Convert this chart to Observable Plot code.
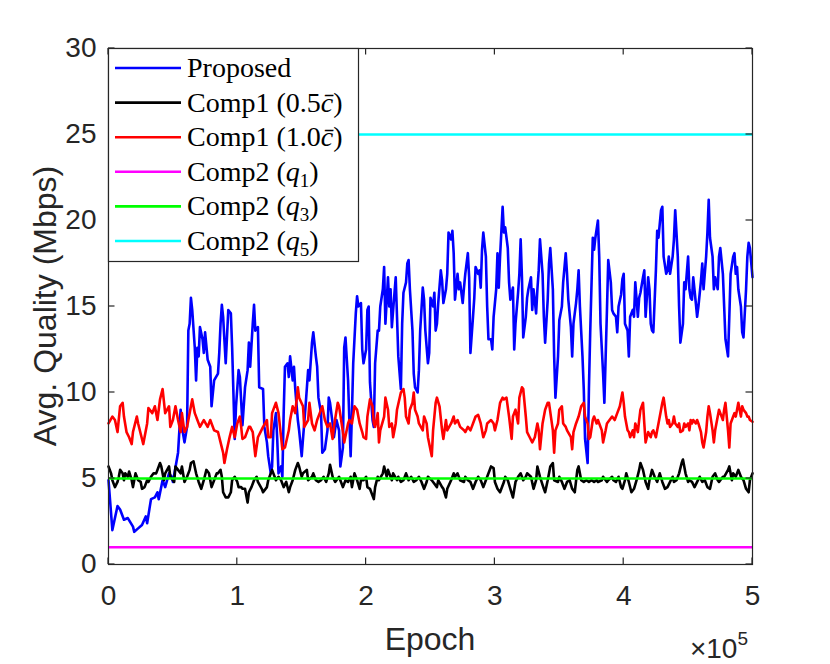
<!DOCTYPE html>
<html>
<head>
<meta charset="utf-8">
<script src="https://cdn.jsdelivr.net/npm/d3@7"></script>
<script src="https://cdn.jsdelivr.net/npm/@observablehq/plot@0.6"></script>
<style>
  html, body { margin: 0; padding: 0; background: #fff; }
</style>
</head>
<body>
<div id="chart"></div>
<script>
// Epoch is in thousands (x 10^3); quality in Mbps
const epochTicksK = [0, 100, 200, 300, 400, 500];
const xTickLabels = ["0", "1", "2", "3", "4", "5"];
const qualityTicks = [0, 5, 10, 15, 20, 25, 30];

const seriesNames = ["Proposed", "Comp1 (0.5c̄)", "Comp1 (1.0c̄)", "Comp2 (q1)", "Comp2 (q3)", "Comp2 (q5)"];
const seriesColors = ["#0000ff", "#000000", "#ff0000", "#ff00ff", "#00ff00", "#00ffff"];

// [epoch (thousands), avg quality]
const proposed = [[0,4.9],[3,2.0],[7,3.4],[9,3.2],[12,2.6],[15,2.7],[19,2.2],[20,1.9],[23,2.1],[26,2.3],[29,2.8],[30,2.4],[33,3.8],[36,3.9],[38,4.2],[39,3.8],[42,4.9],[44,4.5],[47,5.3],[49,5.1],[50,4.8],[54,6.5],[56,9.0],[57,8.0],[59,7.1],[61,8.0],[62,13.6],[63,14.0],[64,15.5],[65,14.8],[67,12.6],[68,10.7],[69,12.6],[70,12.1],[71,13.8],[73,13.1],[74,12.3],[75,13.5],[77,11.9],[79,11.5],[80,9.2],[82,10.7],[85,11.1],[86,12.3],[87,14.0],[88,15.1],[89,14.4],[91,11.7],[93,14.8],[95,14.6],[96,12.6],[98,7.3],[99,9.2],[101,11.3],[102,10.9],[104,8.1],[106,10.3],[108,11.3],[109,12.9],[110,11.5],[112,14.0],[113,15.1],[114,13.6],[116,13.8],[117,10.3],[120,10.2],[121,8.0],[123,7.1],[124,6.3],[126,5.3],[127,5.7],[128,7.8],[130,8.8],[131,7.3],[132,5.3],[134,5.7],[135,5.1],[136,8.8],[137,11.5],[139,11.7],[140,10.9],[141,12.1],[143,10.7],[144,11.5],[145,10.2],[147,8.4],[148,7.8],[150,6.3],[151,7.3],[153,9.2],[155,11.3],[156,10.7],[158,12.9],[159,13.5],[161,12.1],[162,11.5],[163,9.7],[165,8.8],[166,6.5],[168,6.7],[170,7.8],[171,9.7],[172,9.4],[174,8.2],[175,7.4],[177,8.4],[179,7.8],[180,5.7],[182,6.8],[183,12.6],[184,13.2],[186,10.7],[187,8.4],[188,6.3],[189,8.8],[190,11.7],[192,14.6],[193,15.6],[194,15.0],[196,15.2],[197,12.5],[198,11.7],[200,12.5],[201,14.8],[202,15.0],[203,10.6],[205,8.4],[206,8.0],[207,11.7],[209,13.6],[210,13.6],[211,15.0],[213,16.0],[214,17.3],[215,14.0],[217,16.7],[218,15.0],[219,16.0],[220,13.8],[221,14.8],[223,16.7],[224,14.4],[225,12.1],[227,10.2],[228,14.0],[229,15.8],[231,16.4],[232,17.5],[233,17.7],[234,16.0],[236,13.6],[237,11.1],[238,10.3],[240,10.0],[241,11.3],[242,13.6],[244,16.1],[245,15.4],[246,13.6],[248,11.7],[249,12.3],[250,15.5],[252,15.0],[253,15.8],[254,13.6],[255,14.0],[256,15.2],[258,17.1],[259,16.5],[260,15.2],[262,16.0],[263,16.9],[264,19.3],[266,18.9],[267,19.4],[268,18.1],[269,15.4],[271,16.9],[272,16.0],[273,16.4],[275,15.2],[276,16.1],[277,16.9],[279,18.1],[280,16.7],[281,12.3],[283,14.4],[284,15.5],[285,17.3],[287,16.9],[288,17.1],[289,16.1],[290,18.3],[291,19.3],[293,17.9],[294,15.0],[295,13.1],[297,13.1],[298,12.5],[299,14.4],[301,16.0],[302,18.1],[303,16.1],[304,17.9],[306,20.8],[307,19.3],[308,19.6],[310,18.4],[311,16.4],[312,15.4],[314,16.1],[315,12.5],[316,14.0],[318,15.8],[319,16.9],[320,18.9],[321,16.7],[322,13.2],[324,14.4],[325,15.5],[326,16.0],[328,16.7],[329,14.8],[330,16.0],[332,14.6],[333,16.0],[334,17.1],[335,18.9],[337,16.9],[338,14.4],[339,12.9],[341,15.4],[342,17.5],[343,18.4],[345,16.0],[346,12.1],[347,9.7],[349,12.1],[350,14.2],[351,14.6],[352,15.0],[353,16.4],[355,18.1],[356,16.9],[357,15.4],[359,13.8],[360,12.1],[361,14.0],[363,15.2],[364,16.0],[365,17.1],[366,15.0],[368,12.1],[369,10.2],[370,7.3],[372,5.9],[373,10.2],[374,13.5],[376,19.0],[377,18.3],[378,19.0],[380,20.0],[381,17.9],[382,14.0],[384,11.1],[385,9.4],[386,12.1],[387,14.8],[388,17.7],[390,16.4],[391,14.8],[392,14.6],[394,14.4],[395,13.5],[396,15.0],[398,15.7],[399,16.6],[400,16.9],[401,14.0],[403,13.6],[404,12.1],[405,14.4],[407,14.8],[408,14.4],[409,16.4],[411,14.4],[412,15.5],[413,15.8],[415,16.7],[416,17.1],[417,14.4],[419,16.7],[420,16.0],[421,14.0],[422,13.6],[423,13.5],[425,17.1],[426,19.4],[427,19.0],[429,20.6],[430,20.8],[431,17.9],[433,16.9],[434,17.1],[435,17.9],[436,16.9],[438,17.9],[439,18.9],[440,20.6],[442,17.9],[443,15.0],[444,12.9],[446,14.0],[447,16.4],[448,16.0],[450,17.9],[451,16.0],[452,15.5],[453,15.4],[454,16.7],[456,15.2],[457,14.4],[458,15.0],[460,16.5],[461,17.5],[462,16.0],[464,17.9],[465,19.3],[466,21.2],[467,19.0],[469,17.9],[470,16.0],[471,16.7],[473,16.0],[474,17.9],[475,18.4],[477,16.9],[478,15.0],[479,13.1],[481,12.1],[482,14.4],[483,16.9],[485,17.9],[486,18.1],[487,16.9],[488,17.3],[489,16.0],[491,15.0],[492,13.5],[493,13.2],[495,16.0],[496,17.9],[497,18.7],[498,18.4],[500,16.7]];

const comp1Half = [[0,5.7],[2,5.3],[3,4.9],[5,4.5],[7,4.8],[8,5.1],[9,5.5],[11,5.3],[12,4.9],[13,5.3],[15,5.1],[16,5.4],[18,4.9],[19,4.5],[21,5.3],[23,4.9],[25,4.8],[26,4.4],[28,4.5],[30,4.9],[31,4.8],[33,5.1],[35,5.3],[37,5.3],[39,5.7],[40,5.9],[41,5.7],[43,4.9],[44,5.3],[47,5.7],[48,5.1],[50,4.9],[51,4.8],[52,5.7],[54,5.5],[56,5.3],[57,5.7],[59,4.8],[61,5.1],[63,5.5],[64,5.9],[66,6.0],[68,5.3],[70,4.8],[72,4.4],[74,4.9],[76,5.5],[78,5.3],[80,4.5],[82,4.9],[84,5.3],[85,5.3],[87,5.5],[88,5.1],[89,4.2],[91,3.9],[93,3.9],[95,4.2],[96,4.9],[98,5.1],[100,4.8],[101,4.5],[103,4.5],[104,4.4],[106,4.4],[108,3.6],[109,4.2],[111,4.5],[113,4.9],[115,5.1],[116,4.8],[119,4.4],[120,4.2],[123,4.5],[124,4.9],[127,5.5],[128,5.3],[130,4.9],[132,5.1],[134,4.9],[136,4.5],[138,4.8],[140,4.2],[141,4.5],[143,4.9],[145,5.5],[147,5.9],[148,5.7],[150,5.1],[151,5.3],[154,5.5],[155,4.9],[158,5.1],[159,5.3],[161,4.9],[163,4.8],[165,4.9],[167,5.1],[169,4.8],[171,5.3],[172,5.8],[174,5.1],[176,4.8],[179,5.1],[180,4.9],[182,4.5],[184,4.9],[186,4.8],[188,5.1],[189,4.5],[191,5.3],[193,4.9],[195,4.4],[196,4.9],[198,4.9],[200,5.1],[201,4.5],[203,4.4],[206,3.8],[207,4.5],[209,5.1],[210,4.9],[213,5.3],[214,5.7],[216,5.1],[217,5.5],[220,4.9],[221,5.3],[224,4.9],[225,5.1],[227,4.8],[229,4.9],[231,5.3],[233,4.9],[235,5.1],[237,4.8],[239,4.9],[241,5.1],[243,4.8],[245,4.4],[247,4.8],[248,5.1],[251,4.9],[252,4.8],[255,4.5],[256,4.9],[259,4.5],[260,4.4],[262,3.9],[263,4.4],[266,4.9],[268,5.3],[269,5.1],[271,5.3],[273,4.9],[276,4.8],[277,5.1],[279,4.9],[281,4.8],[283,4.4],[285,4.8],[287,5.1],[289,4.9],[291,4.5],[293,4.9],[294,5.1],[297,5.7],[299,5.6],[300,4.8],[302,4.4],[304,4.2],[307,4.8],[308,5.1],[310,4.9],[312,4.4],[314,3.9],[316,4.8],[318,5.1],[320,5.3],[322,4.9],[324,5.1],[325,5.3],[328,5.1],[330,4.4],[332,4.9],[333,5.7],[335,5.1],[338,4.4],[339,4.2],[341,4.9],[343,5.7],[345,5.9],[346,4.9],[349,4.8],[350,5.1],[352,4.8],[354,4.4],[356,4.8],[358,4.9],[360,4.4],[362,4.2],[364,5.5],[365,5.7],[367,4.9],[369,4.8],[371,4.9],[373,4.8],[375,4.9],[377,4.8],[379,4.9],[380,4.8],[383,4.9],[384,5.1],[387,4.8],[388,4.9],[391,5.1],[392,4.9],[394,4.8],[396,5.1],[398,4.5],[399,4.4],[401,4.9],[402,5.3],[404,4.8],[406,4.2],[408,4.4],[410,4.9],[412,5.5],[413,5.9],[415,5.5],[417,4.8],[419,4.4],[420,4.9],[422,5.5],[424,5.1],[426,4.8],[428,5.3],[430,4.8],[432,4.4],[434,4.5],[436,4.8],[438,5.1],[439,4.8],[441,4.9],[443,5.3],[445,5.9],[446,6.1],[448,5.3],[450,4.8],[451,4.9],[453,4.8],[455,4.5],[457,4.8],[459,5.1],[461,4.8],[463,4.9],[465,4.5],[467,4.4],[469,5.1],[471,5.3],[473,4.9],[474,4.8],[477,5.1],[478,5.1],[481,5.5],[482,5.7],[484,4.9],[485,5.3],[487,5.1],[489,5.5],[491,5.1],[493,4.9],[495,4.4],[497,4.2],[498,4.9],[500,5.3]];

const comp1Full = [[0,8.2],[3,8.6],[5,8.4],[7,7.7],[9,9.2],[11,9.4],[12,8.6],[14,7.7],[16,7.4],[18,7.0],[19,7.7],[22,8.6],[23,8.2],[26,7.3],[27,7.0],[30,8.2],[31,9.1],[34,8.8],[36,9.2],[38,8.4],[40,9.6],[42,10.2],[44,8.8],[47,9.2],[48,8.0],[50,8.4],[52,9.2],[54,8.4],[56,7.7],[57,8.8],[59,7.7],[61,8.0],[64,9.2],[65,9.6],[67,8.8],[69,8.4],[71,8.0],[74,8.4],[77,8.0],[79,8.4],[82,7.8],[85,7.7],[87,7.1],[89,6.5],[90,5.9],[92,6.7],[94,7.4],[96,8.0],[98,7.4],[100,8.2],[102,8.6],[103,8.0],[104,7.3],[106,7.4],[109,8.0],[110,8.0],[112,7.7],[114,6.3],[116,7.4],[118,7.7],[120,8.0],[123,8.4],[124,7.4],[126,7.4],[127,8.8],[130,9.4],[132,8.8],[134,7.4],[135,6.7],[137,6.8],[140,7.8],[141,8.4],[143,9.2],[145,8.8],[147,10.3],[148,9.7],[151,9.2],[152,8.0],[155,8.4],[156,9.4],[158,8.2],[160,7.8],[162,8.4],[164,8.8],[166,9.2],[168,8.4],[170,8.0],[172,8.2],[174,7.3],[175,8.0],[178,9.4],[179,9.2],[182,7.7],[183,7.1],[186,8.2],[187,8.4],[189,8.2],[191,9.2],[193,9.0],[195,8.2],[197,7.7],[198,7.4],[200,7.3],[201,8.6],[203,9.6],[205,9.2],[206,8.2],[207,8.0],[209,8.8],[210,7.1],[211,7.8],[214,8.6],[215,9.7],[217,9.0],[218,8.0],[220,8.2],[221,7.4],[223,8.2],[224,9.0],[227,10.0],[229,10.2],[230,9.7],[231,8.6],[233,8.2],[234,9.0],[236,9.4],[237,10.0],[238,9.0],[240,8.6],[241,8.2],[244,7.8],[245,8.6],[247,8.2],[248,7.4],[251,6.3],[252,7.8],[254,9.4],[255,9.7],[257,9.2],[259,7.8],[260,7.3],[262,8.4],[263,7.8],[266,8.2],[268,8.6],[269,8.2],[271,8.4],[273,8.0],[276,7.8],[277,7.7],[279,8.0],[281,7.8],[283,8.2],[285,8.6],[287,8.7],[289,8.2],[291,7.4],[293,7.8],[294,8.2],[297,8.4],[299,8.2],[300,7.8],[302,8.4],[304,9.4],[306,9.7],[307,9.6],[309,9.7],[311,8.6],[313,7.3],[314,8.6],[316,9.0],[318,8.2],[319,9.7],[321,10.3],[322,10.2],[324,8.6],[325,7.7],[327,7.4],[329,7.1],[331,7.4],[333,8.2],[334,7.8],[335,6.7],[337,8.2],[339,9.0],[341,9.4],[342,9.4],[345,7.8],[346,6.5],[347,7.8],[349,8.2],[350,9.0],[352,9.2],[353,8.2],[355,8.0],[356,7.8],[359,7.4],[360,6.7],[361,7.7],[363,8.2],[365,8.6],[367,9.2],[369,9.4],[370,8.6],[372,8.2],[373,7.3],[374,7.4],[376,8.4],[377,8.6],[379,8.2],[380,8.4],[383,7.8],[384,7.1],[386,7.8],[387,8.2],[389,8.4],[391,8.6],[393,8.4],[395,8.8],[397,9.2],[398,9.6],[399,10.0],[400,9.4],[401,8.6],[403,7.8],[404,7.7],[405,7.4],[407,7.8],[408,7.4],[409,8.2],[411,7.7],[412,8.4],[413,9.0],[415,9.4],[416,8.2],[417,7.1],[418,7.4],[419,7.7],[421,7.4],[422,7.7],[423,7.8],[425,7.4],[426,7.8],[427,8.2],[429,9.0],[430,9.4],[431,9.7],[433,8.6],[434,8.2],[435,8.4],[436,8.0],[438,8.2],[439,8.6],[440,8.2],[442,8.0],[443,8.2],[444,7.7],[446,7.8],[447,8.2],[448,8.0],[450,8.2],[451,7.8],[452,8.4],[453,8.2],[454,8.4],[456,8.2],[457,8.4],[458,8.2],[460,7.7],[461,7.1],[462,6.8],[464,7.7],[465,8.6],[466,9.2],[467,8.8],[469,7.8],[470,7.1],[471,7.8],[473,8.6],[474,9.0],[475,8.8],[477,8.4],[478,9.0],[479,9.4],[481,7.8],[482,6.8],[483,8.2],[485,8.6],[486,8.8],[487,8.6],[488,9.0],[489,9.4],[491,8.6],[492,9.2],[493,9.0],[495,8.8],[496,8.6],[497,8.6],[498,8.4],[500,8.3]];

// Comp2 baselines (constant quality levels q1, q3, q5)
const comp2Quality = [1, 5, 25];
const comp2Colors = ["#ff00ff", "#00ff00", "#00ffff"];

// Legend labels with math parts: [text, style]
const legendLabels = [
  [["Proposed"]],
  [["Comp1 (0.5"], ["c\u0304", "i"], [")"]],
  [["Comp1 (1.0"], ["c\u0304", "i"], [")"]],
  [["Comp2 ("], ["q", "i"], ["1", "sub"], [")"]],
  [["Comp2 ("], ["q", "i"], ["3", "sub"], [")"]],
  [["Comp2 ("], ["q", "i"], ["5", "sub"], [")"]]
];

const AX = "#262626";
const SANS = "'Liberation Sans', Arial, Helvetica, sans-serif";
const SERIF = "'Liberation Serif', 'Times New Roman', serif";
const LW = 2.6;

const chart = Plot.plot({
  width: 830,
  height: 664,
  marginLeft: 108,
  marginRight: 78,
  marginTop: 48,
  marginBottom: 100,
  style: { fontFamily: SANS, background: "#fff", overflow: "visible" },
  x: { domain: [0, 500] },
  y: { domain: [0, 30] },
  marks: [
    Plot.line(proposed, { x: d => d[0], y: d => d[1], stroke: seriesColors[0], strokeWidth: LW, strokeLinejoin: "round" }),
    Plot.line(comp1Half, { x: d => d[0], y: d => d[1], stroke: seriesColors[1], strokeWidth: LW, strokeLinejoin: "round" }),
    Plot.line(comp1Full, { x: d => d[0], y: d => d[1], stroke: seriesColors[2], strokeWidth: LW, strokeLinejoin: "round" }),
    ...comp2Quality.map((q, i) => Plot.ruleY([q], { y: d => d, stroke: comp2Colors[i], strokeWidth: LW })),
    Plot.frame({ stroke: AX, strokeWidth: 1.2 }),
    Plot.axisX({ ticks: epochTicksK, tickFormat: d => xTickLabels[epochTicksK.indexOf(d)], tickSize: 0, tickPadding: 21, fontSize: 28, color: AX, label: null }),
    Plot.axisY({ ticks: qualityTicks, tickFormat: d => String(d), tickSize: 0, tickPadding: 12, fontSize: 28, color: AX, label: null })
  ]
});

document.getElementById("chart").appendChild(chart);

const xs = chart.scale("x"), ys = chart.scale("y");
const svg = d3.select(chart);
const x0 = xs.apply(0), x1 = xs.apply(500);
const yB = ys.apply(0), yT = ys.apply(30);
const TL = 6.5;

const g = svg.append("g").attr("stroke", AX).attr("stroke-width", 1.2);
epochTicksK.forEach(t => {
  const px = xs.apply(t);
  g.append("line").attr("x1", px).attr("x2", px).attr("y1", yB).attr("y2", yB - TL);
  g.append("line").attr("x1", px).attr("x2", px).attr("y1", yT).attr("y2", yT + TL);
});
qualityTicks.forEach(t => {
  const py = ys.apply(t);
  g.append("line").attr("x1", x0).attr("x2", x0 + TL).attr("y1", py).attr("y2", py);
  g.append("line").attr("x1", x1).attr("x2", x1 - TL).attr("y1", py).attr("y2", py);
});

// Axis labels
svg.append("text")
  .attr("x", (x0 + x1) / 2).attr("y", 650)
  .attr("text-anchor", "middle").attr("fill", AX)
  .style("font-family", SANS).style("font-size", "32px")
  .text("Epoch");

svg.append("text")
  .attr("transform", `translate(56,${(yB + yT) / 2}) rotate(-90)`)
  .attr("text-anchor", "middle").attr("fill", AX)
  .style("font-family", SANS).style("font-size", "32px")
  .text("Avg. Quality (Mbps)");

const mult = svg.append("text")
  .attr("x", x1 - 4).attr("y", 658)
  .attr("text-anchor", "end").attr("fill", AX)
  .style("font-family", SANS).style("font-size", "28px");
mult.append("tspan").text("×10");
mult.append("tspan").attr("dy", -13).style("font-size", "19px").text("5");

// Legend
const lgLeft = x0, lgTop = yT, lgW = 250, lgH = 213, rowStep = 34.6, row0 = 20;
const lg = svg.append("g").attr("text-anchor", "start");
lg.append("rect")
  .attr("x", lgLeft + 0.5).attr("y", lgTop + 0.5)
  .attr("width", lgW).attr("height", lgH)
  .attr("fill", "#fff").attr("stroke", AX).attr("stroke-width", 1.2);

legendLabels.forEach((parts, i) => {
  const cy = lgTop + row0 + i * rowStep;
  lg.append("line")
    .attr("x1", lgLeft + 7).attr("x2", lgLeft + 73)
    .attr("y1", cy).attr("y2", cy)
    .attr("stroke", seriesColors[i]).attr("stroke-width", LW);
  const t = lg.append("text")
    .attr("x", lgLeft + 79).attr("y", cy + 9)
    .attr("text-anchor", "start")
    .attr("fill", "#000")
    .style("font-family", SERIF).style("font-size", "28px");
  let shifted = 0;
  parts.forEach(([txt, sty]) => {
    const ts = t.append("tspan").text(txt);
    if (sty === "i") ts.style("font-style", "italic");
    if (sty === "sub") {
      ts.attr("dy", 6).style("font-size", "19px");
      shifted = 6;
    } else if (shifted) {
      ts.attr("dy", -shifted);
      shifted = 0;
    }
  });
});
</script>
</body>
</html>
